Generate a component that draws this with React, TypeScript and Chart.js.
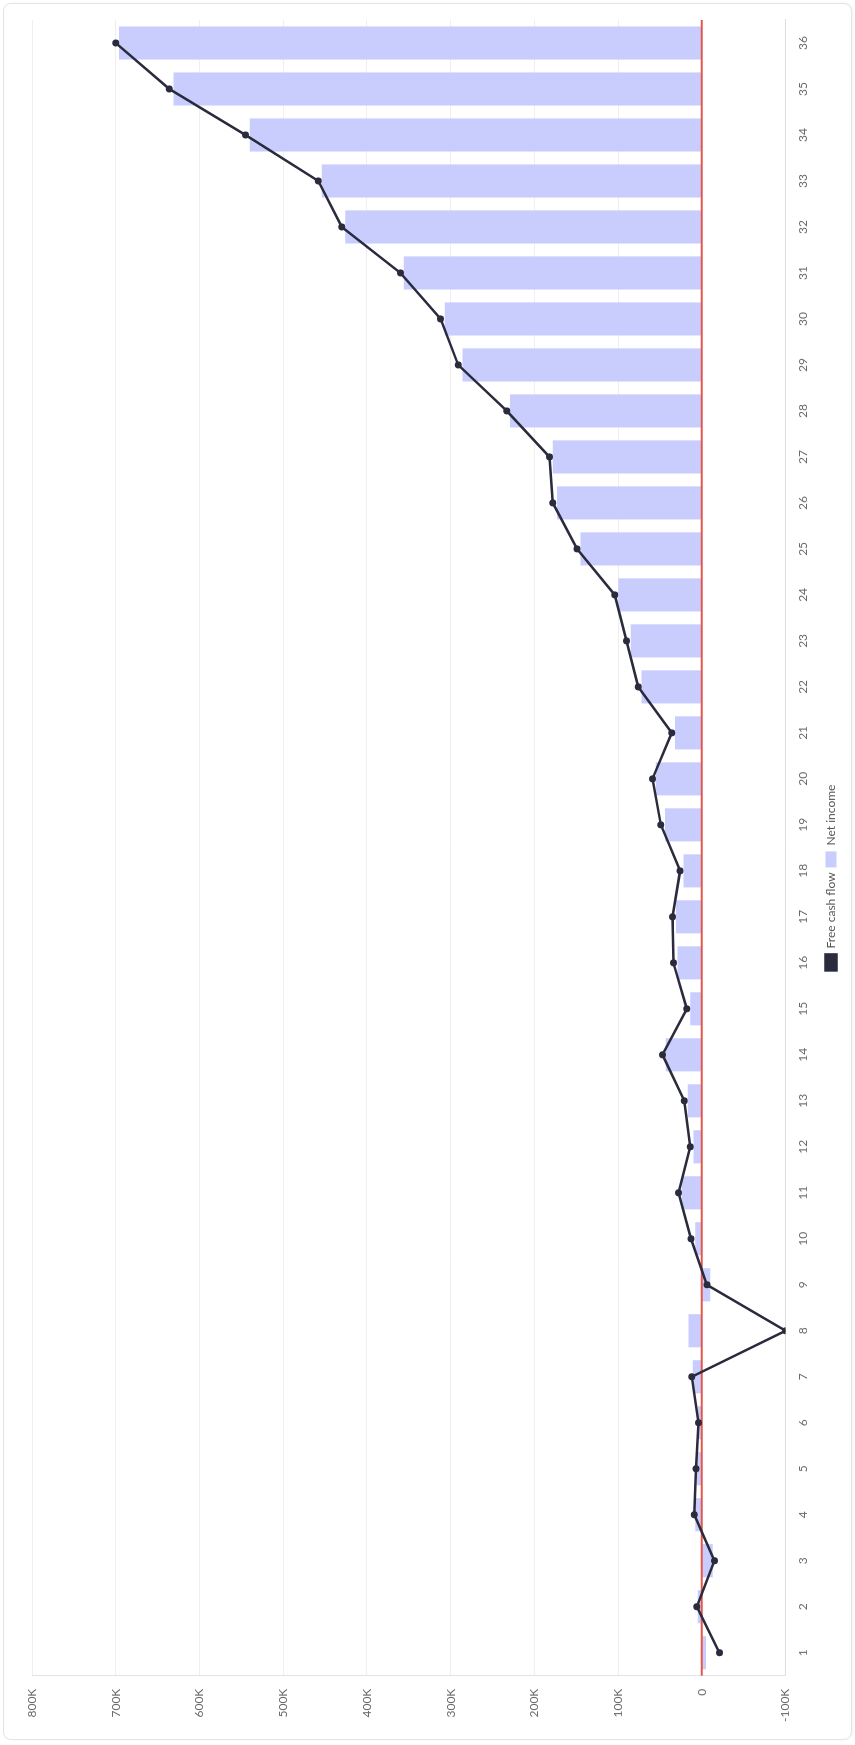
import React, { useEffect, useRef } from "react";
import { Chart, registerables } from "chart.js";

Chart.register(...registerables);

const periods: string[] = [
  "1","2","3","4","5","6","7","8","9","10","11","12","13","14","15","16","17","18",
  "19","20","21","22","23","24","25","26","27","28","29","30","31","32","33","34","35","36",
];

// values in thousands
const netIncome: number[] = [
  -5, 5, -13, 8, 6, 5, 11, 16, -10, 8, 24, 10, 17, 43, 14, 29, 31, 22,
  44, 55, 32, 72, 85, 100, 145, 173, 178, 229, 286, 307, 356, 426, 454, 540, 631, 696,
];

const freeCashFlow: number[] = [
  -21, 6, -15, 9, 7, 4, 12, -100, -6, 13, 28, 14, 21, 47, 18, 34, 35, 26,
  49, 59, 36, 76, 90, 104, 149, 178, 182, 233, 291, 312, 360, 430, 458, 545, 636, 700,
];

const seriesNames: string[] = ["Free cash flow", "Net income"];
const valueMin = -100;
const valueMax = 800;
const valueStep = 100;

const W = 1745;
const H = 855;

export default function App() {
  const canvasRef = useRef<HTMLCanvasElement | null>(null);

  useEffect(() => {
    document.body.style.margin = "0";
    const canvas = canvasRef.current;
    if (!canvas) return;

    const zeroLine = {
      id: "zeroLine",
      afterDatasetDraw(chart: any, args: any) {
        if (args.index !== 1) return;
        const { ctx, chartArea } = chart;
        const y = chart.scales.y.getPixelForValue(0);
        ctx.save();
        ctx.strokeStyle = "#e4574a";
        ctx.lineWidth = 2;
        ctx.beginPath();
        ctx.moveTo(chartArea.left, y);
        ctx.lineTo(chartArea.right, y);
        ctx.stroke();
        ctx.restore();
      },
    };

    const font = { family: "Lato, 'Open Sans', sans-serif", size: 12 };

    const chart = new Chart(canvas, {
      type: "bar",
      data: {
        labels: periods,
        datasets: [
          {
            type: "line",
            label: seriesNames[0],
            data: freeCashFlow,
            borderColor: "#2a2b3d",
            backgroundColor: "#2a2b3d",
            borderWidth: 2.5,
            pointRadius: 3.5,
            pointBackgroundColor: "#2a2b3d",
            pointBorderWidth: 0,
            tension: 0,
            order: 0,
          } as any,
          {
            type: "bar",
            label: seriesNames[1],
            data: netIncome,
            backgroundColor: "#c8cdfd",
            borderWidth: 0,
            order: 1,
          } as any,
        ],
      },
      options: {
        responsive: false,
        animation: false,
        layout: { padding: { top: 28, right: 16, left: 4, bottom: 4 } },
        plugins: {
          legend: {
            position: "bottom",
            labels: {
              boxWidth: 16,
              boxHeight: 11,
              color: "#555",
              font,
              padding: 5,
            },
          },
          tooltip: { enabled: false },
        },
        scales: {
          x: {
            grid: { display: false, drawTicks: false },
            border: { display: true, color: "#dedede", width: 1 },
            ticks: {
              color: "#6b6b6b",
              font,
              autoSkip: false,
              maxRotation: 0,
              minRotation: 0,
              padding: 10,
            },
          },
          y: {
            min: valueMin,
            max: valueMax,
            grid: { color: "#efefef", drawTicks: false },
            border: { display: true, color: "#e2e2e2" },
            ticks: {
              stepSize: valueStep,
              color: "#6b6b6b",
              font,
              padding: 13,
              callback: (v: any) => (Number(v) === 0 ? "0" : `${v}K`),
            },
          },
        },
      },
      plugins: [zeroLine],
    });

    return () => chart.destroy();
  }, []);

  return (
    <div
      style={{
        position: "fixed",
        left: 0,
        top: 0,
        width: 855,
        height: 1745,
        overflow: "hidden",
        background: "#fff",
      }}
    >
      <div
        style={{
          position: "absolute",
          left: 0,
          top: 0,
          width: W,
          height: H,
          transformOrigin: "0 0",
          transform: `translateY(${W}px) rotate(-90deg)`,
        }}
      >
        <div
          style={{
            position: "absolute",
            left: 5,
            top: 3,
            width: 1737,
            height: 849,
            boxSizing: "border-box",
            border: "1px solid #e4e4e4",
            borderRadius: 8,
            background: "#fff",
            boxShadow: "0 1px 3px rgba(0,0,0,0.05)",
          }}
        >
          <canvas
            ref={canvasRef}
            width={1735}
            height={847}
            style={{ display: "block", width: 1735, height: 847 }}
          />
        </div>
      </div>
    </div>
  );
}
